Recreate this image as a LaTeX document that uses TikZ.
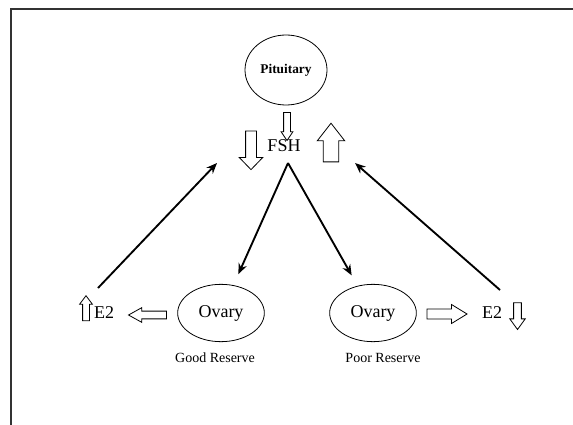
\documentclass[tikz,border=0pt]{standalone}
\usepackage{fontspec}
\setmainfont{Liberation Serif}
\usepackage{tikz}
\usetikzlibrary{shapes.geometric, shapes.arrows, arrows.meta}
\tikzstyle{arrow} = [line width=1.4pt,->,>={Stealth[length=8pt,width=6.5pt]}]
\tikzstyle{gland} = [ellipse, draw, line width=0.6pt, inner sep=0pt]
\tikzstyle{hollow} = [single arrow, draw, line width=0.6pt, single arrow head indent=0pt]
\tikzstyle{big} = [font=\fontsize{13.5}{16}\selectfont]
\tikzstyle{small} = [font=\fontsize{10.5}{12}\selectfont]

\begin{document}
\begin{tikzpicture}[x=0.75pt,y=-0.75pt]
		\useasboundingbox (0,0) rectangle (573,424);
		\draw[line width=1.8pt, black!80] (11,430) -- (11,9) -- (580,9);
		% pituitary and FSH
		\node[gland, minimum width=61.5pt, minimum height=52.5pt, font=\bfseries\fontsize{10}{12}\selectfont] (pit) at (286,70) {Pituitary};
		\node[hollow, minimum height=21pt, inner sep=2.25pt, single arrow head extend=1.9pt, single arrow tip angle=68, shape border rotate=270] (pitdown) at (287,124) {};
		\node[big] (fsh) at (284,146) {FSH};
		\node[hollow, minimum height=29pt, inner sep=3.75pt, single arrow head extend=4.75pt, single arrow tip angle=88, shape border rotate=270] (fshdown) at (251,147.5) {};
		\node[hollow, minimum height=29pt, inner sep=5.5pt, single arrow head extend=4.5pt, single arrow tip angle=76, shape border rotate=90] (fshup) at (331,147.5) {};
		% ovaries
		\node[gland, big, minimum width=65pt, minimum height=43pt] (ovl) at (221,313) {Ovary};
		\node[small] (goodres) at (215,358) {Good Reserve};
		\node[gland, big, minimum width=65pt, minimum height=43pt] (ovr) at (373,313) {Ovary};
		\node[small] (poorres) at (383,358) {Poor Reserve};
		% E2
		\node[hollow, minimum height=28.5pt, inner sep=2.6pt, single arrow head extend=2.6pt, single arrow tip angle=58, shape border rotate=180] (ovlout) at (151,315) {};
		\node[big] (e2l) at (104,313) {E2};
		\node[hollow, minimum height=18.75pt, inner sep=2.25pt, single arrow head extend=2.25pt, single arrow tip angle=74, shape border rotate=90] (e2lup) at (86,310.5) {};
		\node[hollow, minimum height=30pt, inner sep=3.4pt, single arrow head extend=3.4pt, single arrow tip angle=63] (ovrout) at (443,314) {};
		\node[big] (e2r) at (492,313) {E2};
		\node[hollow, minimum height=20pt, inner sep=2.6pt, single arrow head extend=2.9pt, single arrow tip angle=72, shape border rotate=270] (e2rdown) at (517.5,313.5) {};
		% feedback arrows
		\coordinate (fshbot) at (288,163);
		\coordinate (fshleft) at (217,163);
		\coordinate (fshright) at (355,163);
		\coordinate (e2ltail) at (98,288);
		\coordinate (e2rtail) at (500,290);
		\draw [arrow, shorten >=9pt] (fshbot) -- (ovl);
		\draw [arrow, shorten >=9pt] (fshbot) -- (ovr);
		\draw [arrow] (e2ltail) -- (fshleft);
		\draw [arrow] (e2rtail) -- (fshright);
	\end{tikzpicture}
\end{document}
